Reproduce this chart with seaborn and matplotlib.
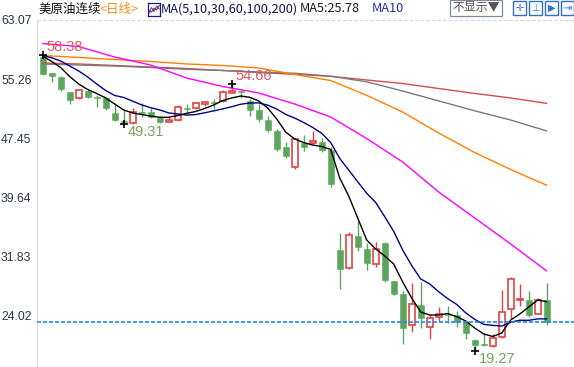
import numpy as np
import pandas as pd
import matplotlib
matplotlib.use("Agg")
import matplotlib.pyplot as plt
from matplotlib.patches import Rectangle
import seaborn as sns

# =========================================
# Data (daily candles)
# =========================================

opens = [58.2, 56.0, 55.5, 53.6, 52.7, 53.7, 52.8, 52.7, 50.8, 49.74,
         49.4, 50.9, 50.95, 50.06, 49.57, 49.83, 51.3, 51.4, 51.9, 52.15,
         52.3, 53.45, 53.6, 52.35, 51.15, 49.83, 48.4, 46.3, 43.57, 46.8,
         46.83, 46.9, 45.86, 32.6, 30.2, 34.5, 32.8, 30.77, 33.6, 28.5,
         26.8, 22.65, 25.3, 22.4, 23.7, 24.15, 24.0, 23.05, 20.7, 20.08,
         19.95, 21.15, 24.8, 26.05, 26.05, 24.2, 26.05]
highs = [58.38, 56.1, 55.65, 53.6, 53.9, 54.0, 53.1, 52.9, 52.05, 51.25,
         51.4, 52.05, 51.4, 50.36, 50.36, 51.8, 51.9, 52.2, 52.4, 52.6,
         53.8, 54.66, 53.8, 52.57, 51.95, 50.36, 48.7, 46.96, 47.4, 47.9,
         48.4, 47.4, 46.2, 34.9, 35.0, 36.4, 33.5, 33.7, 33.7, 28.5,
         27.25, 28.22, 28.4, 24.0, 25.04, 25.2, 24.5, 23.2, 20.8, 21.7,
         21.5, 27.3, 29.0, 28.1, 27.2, 26.3, 28.3]
lows = [55.8, 54.8, 53.7, 52.0, 52.6, 52.8, 51.6, 51.2, 49.74, 49.31,
        49.35, 50.2, 50.06, 49.4, 49.57, 49.74, 50.7, 51.33, 51.7, 51.25,
        52.2, 53.45, 52.7, 50.4, 49.6, 48.2, 45.77, 44.76, 43.3, 45.7,
        46.7, 45.6, 41.0, 27.4, 30.1, 32.5, 29.98, 30.35, 28.4, 26.7,
        20.14, 21.8, 22.25, 20.8, 23.13, 22.9, 22.4, 20.8, 19.27, 19.95,
        19.83, 21.0, 23.45, 25.2, 23.7, 24.1, 22.7]
closes = [55.9, 55.7, 53.9, 52.5, 53.8, 52.9, 52.7, 51.4, 49.8, 49.55,
          50.93, 50.8, 50.2, 49.57, 49.83, 51.5, 51.25, 52.05, 52.2, 52.1,
          53.5, 53.7, 53.5, 51.15, 50.0, 48.5, 46.05, 45.07, 47.3, 46.2,
          47.05, 45.86, 41.36, 30.15, 34.6, 33.0, 30.85, 32.7, 28.6, 26.75,
          22.25, 25.43, 23.6, 23.6, 24.1, 24.05, 23.1, 21.6, 20.05, 20.0,
          21.0, 24.45, 28.78, 26.15, 24.0, 26.0, 23.05]

ma5 = [58.30, 57.58, 56.78, 55.59, 54.60, 53.87, 53.34, 52.75, 51.95, 51.16,
       50.76, 50.56, 50.36, 50.19, 50.19, 50.43, 50.72, 50.96, 51.36, 51.82,
       52.41, 52.75, 53.01, 52.84, 52.35, 51.42, 49.97, 48.24, 47.32, 46.85,
       46.52, 46.33, 45.93, 42.16, 39.77, 36.86, 33.95, 32.76, 31.83, 30.77,
       28.39, 26.27, 24.42, 24.02, 24.02, 24.22, 23.80, 23.23, 22.30, 21.51,
       21.18, 21.64, 23.36, 24.15, 25.08, 26.01, 25.78]
ma10 = [58.37, 58.07, 57.64, 56.98, 56.32, 55.53, 54.60, 53.74, 53.08, 52.82,
        52.32, 51.83, 51.46, 51.17, 50.77, 50.63, 50.48, 50.55, 50.79, 51.04,
        51.30, 51.59, 51.92, 52.08, 52.10, 51.80, 51.28, 50.58, 50.09, 49.50,
        48.85, 48.07, 46.85, 44.75, 43.21, 41.66, 40.14, 38.91, 37.04, 35.09,
        32.61, 30.57, 28.79, 28.14, 27.09, 26.19, 25.42, 24.31, 23.45, 22.78,
        22.65, 22.56, 23.07, 23.33, 23.32, 23.51, 23.51]

# long averages read every 4th candle
long_idx = [0, 4, 8, 12, 16, 20, 24, 28, 32, 36, 40, 44, 48, 52, 56]
ma30 = [59.96, 59.56, 58.17, 57.11, 55.39, 54.27, 53.41, 51.95, 50.23, 47.38,
        44.27, 40.30, 36.86, 33.42, 29.85]
ma60 = [58.37, 58.11, 57.84, 57.58, 57.25, 57.05, 56.72, 55.86, 55.06, 53.10,
        50.89, 48.11, 45.53, 43.28, 41.19]
ma100 = [57.25, 57.11, 56.98, 56.78, 56.54, 56.39, 56.19, 56.02, 55.63, 54.89,
         53.67, 52.36, 51.05, 49.83, 48.38]
ma200 = [57.38, 57.25, 57.05, 56.85, 56.65, 56.39, 56.12, 55.88, 55.62, 55.13,
         54.66, 54.00, 53.35, 52.75, 52.04]

y_ticks = [63.07, 55.26, 47.45, 39.64, 31.83, 24.02]

# =========================================
# Figure
# =========================================

sns.set_style("white")
plt.rcParams['font.family'] = ['Noto Sans CJK SC', 'DejaVu Sans']

W, H = 574, 367
fig = plt.figure(figsize=(W / 100, H / 100), dpi=100)
ax = fig.add_axes([37 / W, 0, (W - 37) / W, (H - 20) / H])

green = '#5ca55c'
red = '#db4444'
n = len(closes)

# candles
for i in range(n):
    up = closes[i] >= opens[i]
    col = red if up else green
    ax.vlines(i, lows[i], highs[i], color=col, lw=1, zorder=2)
    bottom = min(opens[i], closes[i])
    height = max(abs(closes[i] - opens[i]), 0.12)
    ax.bar(i, height, bottom=bottom, width=0.7,
           color='white' if up else green, edgecolor=col,
           linewidth=1.2 if up else 0.4, zorder=3)

# moving averages
df_short = pd.DataFrame({'i': np.arange(n), 'ma5': ma5, 'ma10': ma10})
df_long = pd.DataFrame({'i': long_idx, 'ma30': ma30, 'ma60': ma60,
                        'ma100': ma100, 'ma200': ma200})

for name, col in [('ma200', '#d64b4b'), ('ma100', '#7a7a7a'),
                  ('ma60', '#ff8000'), ('ma30', '#ff00ff')]:
    sns.lineplot(data=df_long, x='i', y=name, color=col, lw=1, ax=ax, zorder=4)
sns.lineplot(data=df_short, x='i', y='ma10', color='#00008b', lw=1, ax=ax, zorder=5)
sns.lineplot(data=df_short, x='i', y='ma5', color='black', lw=1, ax=ax, zorder=6)

# last price line
ax.axhline(closes[-1], color='#1e86ff', lw=1.2, ls=(0, (2.4, 1.2)), zorder=7)
# top grid line
ax.axhline(y_ticks[0], color='#d4d4d4', lw=0.8, ls=(0, (3, 2)), clip_on=False)

# high / low marks
hi_i = int(np.argmax(highs))
lo_i = int(np.argmin(lows))
lo_i2 = int(np.argmin(lows[:20]))
hi_i2 = 10 + int(np.argmax(highs[10:30]))
for i, v in [(hi_i, highs[hi_i]), (hi_i2, highs[hi_i2])]:
    ax.plot(i, v, marker='+', color='black', ms=6, mew=1.2, zorder=8)
    ax.annotate(f"{v:.2f}", (i, v), xytext=(4, 1), textcoords='offset pixels',
                color='#e05a5a', fontsize=10.5, family='Liberation Sans',
                ha='left', va='bottom', zorder=9)
for i, v in [(lo_i2, lows[lo_i2]), (lo_i, lows[lo_i])]:
    ax.plot(i, v, marker='+', color='black', ms=6, mew=1.2, zorder=8)
    ax.annotate(f"{v:.2f}", (i, v), xytext=(4, -1), textcoords='offset pixels',
                color='#74a554', fontsize=10.5, family='Liberation Sans',
                ha='left', va='top', zorder=9)

# axes styling
ax.set_xlim(-0.63, 59.03)
ax.set_ylim(17.14, 63.07)
ax.set_xticks([])
ax.set_yticks(y_ticks)
ax.set_yticklabels([f"{v:.2f}" for v in y_ticks], family='Liberation Sans')
ax.set_yticks(np.arange(y_ticks[0], 17.0, -(y_ticks[0] - y_ticks[1]) / 5), minor=True)
ax.tick_params(axis='y', which='major', length=3, color='#a9c3dc', width=0.8,
               labelsize=8.8, labelcolor='#2b3648', pad=1)
ax.tick_params(axis='y', which='minor', length=2, color='#c8c8c8', width=0.8,
               direction='in')
ax.set_xlabel('')
ax.set_ylabel('')
for s in ['top', 'right', 'bottom']:
    ax.spines[s].set_visible(False)
ax.spines['left'].set_color('#dcdcdc')
ax.spines['left'].set_linewidth(0.8)

# =========================================
# Header bar
# =========================================

def fx(px):
    return px / W


def fy(py):
    return 1 - py / H


fig.text(fx(38), fy(9), "美原油连续", fontsize=9, color='#111111', va='center')
fig.text(fx(100), fy(9), "<日线>", fontsize=9, color='#ff8a1f', va='center')

icon = fig.add_axes([fx(148), fy(16), 12 / W, 13 / H])
icon.plot([0, 1, 2, 3, 4], [0.5, 2.5, 1.2, 3, 2], color='#d03030', lw=0.8)
icon.plot([0, 1, 2, 3, 4], [1.5, 1, 2.2, 1.8, 3.2], color='#2040c0', lw=0.8)
icon.set_xlim(-0.3, 4.3)
icon.set_ylim(-0.3, 4)
icon.set_xticks([])
icon.set_yticks([])
for s in icon.spines.values():
    s.set_color('#1a1a8a')
    s.set_linewidth(0.9)

fig.text(fx(161), fy(9), "MA(5,10,30,60,100,200)", fontsize=9.2,
         color='#14145a', va='center')
fig.text(fx(300), fy(9), f"MA5:{ma5[-1]:.2f}", fontsize=9.2, color='#1a1a1a',
         va='center')
fig.text(fx(372), fy(9), "MA10", fontsize=9.2, color='#2a2ab4', va='center')

fig.patches.append(Rectangle((fx(450), fy(16)), 52 / W, 16 / H,
                             transform=fig.transFigure, fill=False,
                             edgecolor='#7a8aa0', lw=0.9))
fig.text(fx(476), fy(8), "不显示▼", fontsize=8.6, color='#555555',
         ha='center', va='center')

for k, sym in enumerate(["✛", "⊥", "▶", "⇥"]):
    x0 = 513 + k * 16
    fig.patches.append(Rectangle((fx(x0), fy(15)), 13 / W, 14 / H,
                                 transform=fig.transFigure, fill=False,
                                 edgecolor='#2f6fd6', lw=1))
    fig.text(fx(x0 + 6.5), fy(8), sym, fontsize=7, color='#2f6fd6',
             ha='center', va='center', family=['DejaVu Sans'])

fig.savefig("out.png", dpi=100)
